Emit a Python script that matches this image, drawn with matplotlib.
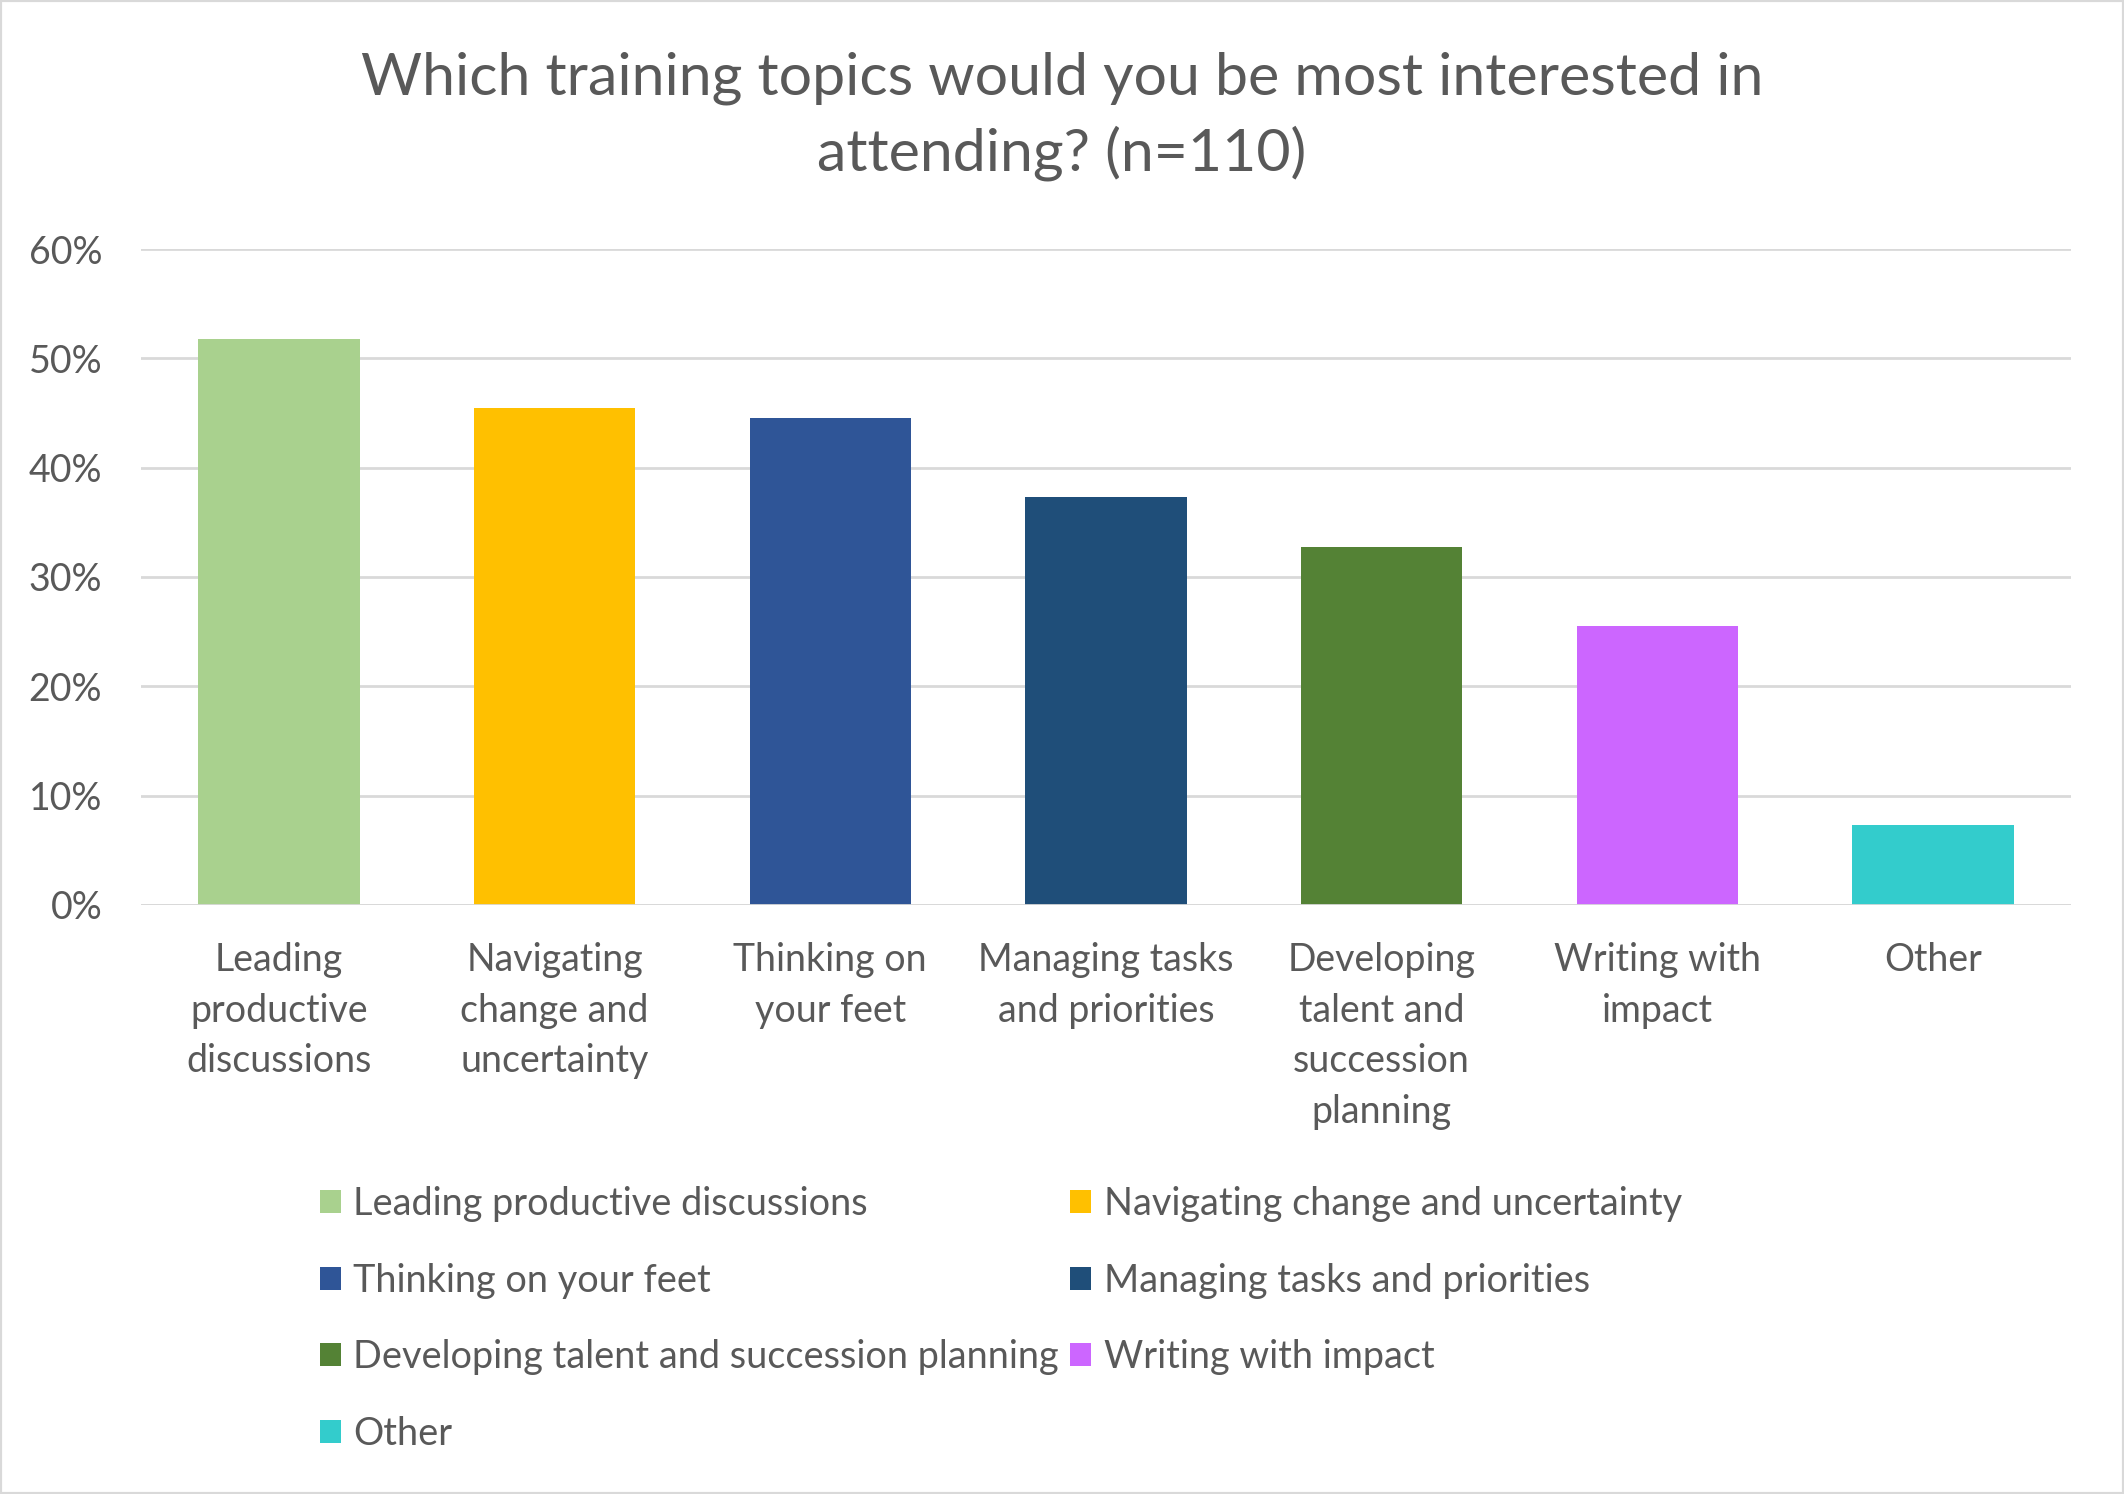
import matplotlib.pyplot as plt
from matplotlib.patches import Patch, Rectangle
from matplotlib.ticker import PercentFormatter

topics = ["Leading productive discussions", "Navigating change and uncertainty",
          "Thinking on your feet", "Managing tasks and priorities",
          "Developing talent and succession planning", "Writing with impact", "Other"]
tick_labels = ["Leading\nproductive\ndiscussions", "Navigating\nchange and\nuncertainty",
               "Thinking on\nyour feet", "Managing tasks\nand priorities",
               "Developing\ntalent and\nsuccession\nplanning", "Writing with\nimpact", "Other"]
shares = [51.8, 45.5, 44.5, 37.3, 32.7, 25.5, 7.3]
colors = ["#A9D18E", "#FFC000", "#2F5597", "#1F4E79", "#548235", "#CC66FF", "#33CCCC"]

txt = "#595959"
plt.rcParams['font.family'] = ['Lato', 'DejaVu Sans']

fig = plt.figure(figsize=(21.24, 14.94), dpi=100)
ax = fig.add_axes([0.0664, 0.3943, 0.9086, 0.439])

x = range(len(topics))
ax.bar(x, shares, width=0.585, color=colors, zorder=3)

ax.set_xlim(-0.5, 6.5)
ax.set_ylim(0, 60)
ax.set_yticks(range(0, 61, 10))
ax.yaxis.set_major_formatter(PercentFormatter(decimals=0))
ax.set_xticks(list(x))
ax.set_xticklabels(tick_labels, fontsize=27, color=txt, linespacing=1.5, va='top')
ax.tick_params(axis='y', labelsize=27, labelcolor=txt, length=0, pad=28)
ax.tick_params(axis='x', length=0, pad=27)
ax.grid(axis='y', color="#D9D9D9", linewidth=2, zorder=0)
for s in ax.spines.values():
    s.set_visible(False)
ax.axhline(0, color="#D9D9D9", linewidth=2, zorder=4)

fig.text(0.5, 0.9225, "Which training topics would you be most interested in\nattending? (n=110)",
         ha='center', va='center', fontsize=42.5, color=txt, linespacing=1.45)

handles = [Patch(facecolor=c) for c in colors]
order = [0, 2, 4, 6, 1, 3, 5]
fig.legend([handles[i] for i in order], [topics[i] for i in order],
           loc='upper left', bbox_to_anchor=(0.1346, 0.2290), ncol=2, frameon=False,
           fontsize=27.3, labelcolor=txt, handlelength=0.55, handleheight=0.55,
           handletextpad=0.33, columnspacing=0.3, labelspacing=1.07)

fig.patches.append(Rectangle((0, 0), 1, 1, transform=fig.transFigure, fill=False,
                             edgecolor="#D9D9D9", linewidth=3))

fig.savefig("out.png", dpi=100)
